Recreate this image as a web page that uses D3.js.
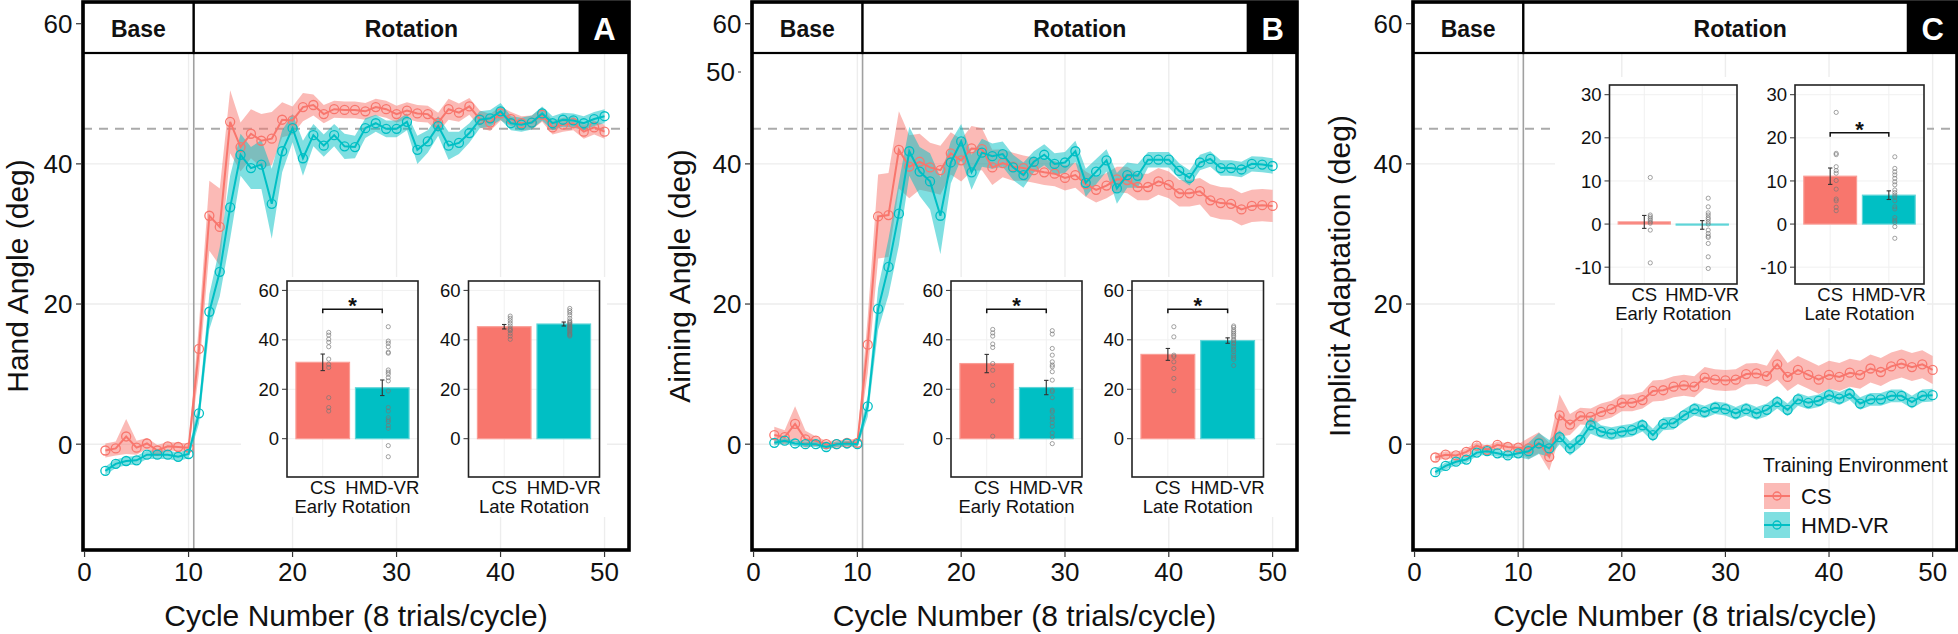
<!DOCTYPE html>
<html><head><meta charset="utf-8">
<script src="https://cdn.jsdelivr.net/npm/d3@7"></script>
<style>
body{margin:0;background:#fff}
svg{display:block}
text{font-family:"Liberation Sans",Arial,Helvetica,sans-serif;fill:#111}
</style>
</head><body>
<svg id="c" width="1958" height="634"></svg>
<script>
// ---------------- DATA ----------------
const cycles = [2,3,4,5,6,7,8,9,10,11,12,13,14,15,16,17,18,19,20,21,22,23,24,25,26,27,28,29,30,31,32,33,34,35,36,37,38,39,40,41,42,43,44,45,46,47,48,49,50];
const groups = ["CS","HMD-VR"];
const xTickVals = [0,10,20,30,40,50];
const yTickVals = [0,20,40,60];
const insetTicksAB = [0,20,40,60];
const insetTicksC = [-10,0,10,20,30];
const extraTickB = ["50"];
const stripLabels = ["Base","Rotation"];
const panelLetters = ["A","B","C"];
const yTitles = ["Hand Angle (deg)","Aiming Angle (deg)","Implicit Adaptation (deg)"];
const xTitle = "Cycle Number (8 trials/cycle)";
const insetTitles = ["Early Rotation","Late Rotation"];
const legendTitle = "Training Environment";
const rotationAngle = 45;
const rotationStart = 10.5;

// Panel A: hand angle
const handCS = [-0.9,-0.6,1.1,-0.5,0.1,-0.9,-0.3,-0.4,-0.5, 13.6,32.6,31.0,46.0,42.4,44.3,43.3,43.6,46.3,46.2, 48.1,48.4,47.1,47.8,47.7,47.7,47.5,48.1,47.8,47.1, 47.6,47.2,47.1,45.9,47.8,47.3,48.2,46.4,45.9,47.2, 46.4,45.8,45.9,47.0,45.2,45.6,45.8,44.6,45.2,44.6];
const handCSse = [1.0,1.0,2.5,1.0,0.8,0.8,0.6,0.6,0.6, 3.5,5.0,5.5,4.5,3.5,3.5,3.8,3.8,2.5,2.0, 2.0,1.5,1.3,1.2,1.2,1.2,1.2,1.2,1.2,1.2, 1.2,1.2,1.2,1.4,1.5,1.3,1.2,1.2,1.2,1.0, 1.0,1.0,1.0,1.0,1.0,1.0,1.0,1.0,1.0,1.0];
const handVR = [-3.8,-2.8,-2.4,-2.3,-1.5,-1.5,-1.5,-1.8,-1.4, 4.4,18.9,24.6,33.8,41.3,39.4,39.9,34.3,41.8,45.1, 40.8,44.1,42.6,44.1,42.5,42.4,45.1,45.8,45.0,45.0, 46.0,42.0,43.2,45.4,42.6,43.0,44.4,46.3,46.5,47.5, 45.8,45.6,45.9,47.2,45.8,46.3,46.2,45.8,46.4,46.8];
const handVRse = [0.6,0.6,0.6,0.6,0.6,0.6,0.6,0.6,0.6, 1.5,2.5,3.5,4.5,3.0,3.0,3.5,5.0,3.0,2.0, 2.5,1.6,1.6,1.6,1.8,1.6,1.4,1.2,1.2,1.2, 1.2,2.0,1.6,1.4,2.0,1.6,1.4,1.2,1.2,1.2, 1.0,1.0,1.0,1.0,1.0,1.0,1.0,1.0,1.0,1.0];

// Panel B: aiming angle
const aimCS = [1.3,1.0,2.9,0.7,0.5,0.0,0.0,0.2,0.2, 14.2,32.5,32.7,42.0,39.6,40.3,39.5,39.1,41.5,40.5, 42.2,42.1,39.5,40.1,39.6,39.4,39.1,38.8,38.6,38.0, 38.4,37.1,36.3,36.9,37.8,37.7,36.7,36.7,37.5,37.0, 35.8,35.8,36.1,34.8,34.4,34.3,33.5,34.0,34.1,34.0];
const aimCSse = [1.2,1.0,2.5,1.2,0.6,0.5,0.5,0.5,0.5, 4.0,6.0,6.0,5.5,4.5,4.0,3.5,3.5,3.0,3.0, 3.2,3.0,2.5,2.0,2.0,1.8,1.8,1.8,1.8,1.8, 1.8,1.8,1.8,1.8,1.8,1.9,1.9,1.9,1.9,1.9, 1.9,1.9,1.9,2.3,2.3,2.3,2.3,2.3,2.3,2.3];
const aimVR = [0.2,0.5,0.1,0.0,0.0,-0.4,0.0,0.1,0.0, 5.4,19.3,25.3,32.9,41.8,38.9,37.5,32.6,40.2,43.2, 38.8,41.6,41.1,41.4,39.5,38.4,40.3,41.3,40.0,40.2, 41.8,37.3,38.9,40.5,36.5,38.4,38.3,40.6,40.6,40.6, 39.0,38.0,40.2,40.7,39.4,39.4,39.2,40.0,39.9,39.7];
const aimVRse = [0.4,0.4,0.4,0.4,0.4,0.4,0.4,0.4,0.4, 1.5,3.0,4.0,4.5,3.5,3.5,4.0,5.5,3.0,2.5, 2.5,2.0,1.8,1.8,1.8,1.8,1.5,1.5,1.5,1.5, 1.5,2.0,1.8,1.6,2.2,1.8,1.7,1.1,1.1,1.1, 1.1,1.1,1.1,1.1,1.1,1.1,1.1,1.1,1.1,1.1];

// Panel C: implicit adaptation
const implCS = [-1.9,-1.5,-1.6,-1.1,-0.2,-0.8,-0.1,-0.4,-0.5, -0.6,0.2,-1.8,4.1,2.8,4.0,3.9,4.6,5.0,5.9, 5.9,6.3,7.6,7.7,8.2,8.4,8.2,9.5,9.2,9.1, 9.2,10.0,10.1,9.7,11.4,9.6,10.6,9.9,9.2,9.9, 9.6,10.2,9.9,10.8,10.3,11.1,11.5,11.0,11.4,10.6];
const implCSse = [0.5,0.5,0.5,0.5,0.5,0.5,0.5,0.5,0.5, 1.5,1.5,2.0,3.0,1.5,1.2,1.2,1.2,1.2,1.2, 1.2,1.2,1.5,1.5,1.5,1.5,1.5,1.5,1.5,1.5, 1.5,1.5,1.5,1.5,2.2,2.0,2.0,2.0,2.0,2.0, 2.0,2.0,2.0,2.0,2.0,2.0,2.0,2.0,2.0,2.0];
const implVR = [-4.0,-3.1,-2.5,-2.2,-1.2,-1.0,-1.3,-1.6,-1.3, -1.0,0.1,-0.6,1.0,-0.6,0.6,2.7,1.8,1.5,1.8, 2.0,2.7,1.3,2.9,3.0,4.1,5.0,4.6,5.2,5.0, 4.4,5.0,4.4,4.9,6.0,4.9,6.4,5.9,6.2,7.0, 6.5,7.2,5.8,6.4,6.4,6.9,6.9,6.0,6.9,7.0];
const implVRse = [0.5,0.5,0.5,0.5,0.5,0.5,0.5,0.5,0.5, 1.2,1.5,1.2,1.0,1.0,1.0,1.2,0.9,0.9,0.9, 0.9,0.9,0.9,0.9,0.9,0.9,0.9,0.9,0.9,0.9, 0.9,0.9,0.9,0.9,0.9,0.9,0.9,0.9,0.9,0.9, 0.9,0.9,0.9,0.9,0.9,0.9,0.9,0.9,0.9,0.9];

// Insets: bar means, SE, individual participants
const handEarlyMeans = [30.9, 20.6];
const handEarlySE = [3.35, 3.15];
const handEarlyDotsCS = [43.0,41.9,40.3,39.0,37.2,32.2,30.1,28.8,16.6,12.6,11.2];
const handEarlyDotsVR = [45.3,39.5,38.6,37.2,35.0,34.6,27.8,26.9,26.1,24.7,23.4,19.3,12.6,11.2,8.5,7.6,6.9,5.3,4.2,-2.8,-7.3];
const handEarlySig = 52.4;
const handLateMeans = [45.3, 46.4];
const handLateSE = [0.9, 0.8];
const handLateDotsCS = [49.6,48.7,47.7,46.7,45.6,44.6,44.0,43.7,42.6,41.5,40.2];
const handLateDotsVR = [52.7,51.8,51.0,50.0,48.7,47.7,47.2,46.9,46.4,46.0,45.6,45.2,44.9,44.6,44.2,43.7,43.2,42.6,42.2,41.9,41.5];
const handLateSig = null;

const aimEarlyMeans = [30.4, 20.7];
const aimEarlySE = [3.7, 2.9];
const aimEarlyDotsCS = [44.2,42.8,41.5,38.3,36.9,30.4,27.7,21.6,15.3,1.0];
const aimEarlyDotsVR = [43.7,42.3,36.5,33.8,31.1,29.8,29.1,27.1,23.7,19.6,19.0,16.6,11.5,10.8,8.8,7.9,6.4,5.0,2.3,0.7,-2.0];
const aimEarlySig = 52.4;
const aimLateMeans = [34.1, 39.7];
const aimLateSE = [2.4, 1.1];
const aimLateDotsCS = [45.3,41.2,33.8,33.2,31.1,28.4,24.4,19.4];
const aimLateDotsVR = [45.6,45.0,44.0,43.3,42.6,41.9,41.2,40.2,39.6,38.8,38.3,37.2,36.1,35.2,33.8,32.9,32.1,29.6];
const aimLateSig = 52.4;

const implEarlyMeans = [0.5, -0.2];
const implEarlySE = [1.5, 1.0];
const implEarlyDotsCS = [10.8,2.1,1.7,1.3,0.9,0.5,0.2,-1.4,-9.0];
const implEarlyDotsVR = [6.0,4.0,2.6,2.1,1.5,1.1,0.5,0.0,-1.4,-2.2,-2.8,-3.1,-4.5,-7.6,-10.3];
const implEarlySig = null;
const implLateMeans = [11.1, 6.7];
const implLateSE = [1.9, 1.0];
const implLateDotsCS = [25.9,16.4,16.1,13.3,12.4,11.8,10.1,8.1,5.8,5.4,3.9,3.1];
const implLateDotsVR = [15.6,12.9,12.1,11.4,10.6,9.8,9.1,7.9,7.3,6.7,6.2,5.4,4.0,3.5,1.5,0.9,0.4,-0.6,-3.3];
const implLateSig = 21.2;

// ---------------- STYLE / LAYOUT ----------------
const COL = {cs:"#F8766D", vr:"#00BFC4"};
const BAR_EDGE = {cs:"#fa9d96", vr:"#5fd5d8"};
const panelTop = 2, panelBottom = 550, stripBottom = 53;
const xDomain = [-0.15, 52.35];
const yMain = d3.scaleLinear([-15.1, 63.1], [panelBottom, panelTop]);

const panels = [
  {key:"A", left:83, right:629, titleX:28,
   cs:handCS, csse:handCSse, vr:handVR, vrse:handVRse,
   bg:[241,277,607,517],
   insets:[
     {box:[287,418,281,477], dom:[-15.5,63.8], ticks:insetTicksAB, means:handEarlyMeans, se:handEarlySE, dcs:handEarlyDotsCS, dvr:handEarlyDotsVR, sig:handEarlySig, title:insetTitles[0]},
     {box:[468.5,599.5,281,477], dom:[-15.5,63.8], ticks:insetTicksAB, means:handLateMeans, se:handLateSE, dcs:handLateDotsCS, dvr:handLateDotsVR, sig:handLateSig, title:insetTitles[1]}]},
  {key:"B", left:752, right:1297, titleX:690,
   cs:aimCS, csse:aimCSse, vr:aimVR, vrse:aimVRse,
   bg:[904,277,1276,517],
   insets:[
     {box:[951,1082,281,477], dom:[-15.5,63.8], ticks:insetTicksAB, means:aimEarlyMeans, se:aimEarlySE, dcs:aimEarlyDotsCS, dvr:aimEarlyDotsVR, sig:aimEarlySig, title:insetTitles[0]},
     {box:[1132,1263.5,281,477], dom:[-15.5,63.8], ticks:insetTicksAB, means:aimLateMeans, se:aimLateSE, dcs:aimLateDotsCS, dvr:aimLateDotsVR, sig:aimLateSig, title:insetTitles[1]}]},
  {key:"C", left:1413, right:1957, titleX:1350,
   cs:implCS, csse:implCSse, vr:implVR, vrse:implVRse,
   bg:[1555,77,1927,328],
   insets:[
     {box:[1609.5,1737,85,284], dom:[-13.9,32.25], ticks:insetTicksC, means:implEarlyMeans, se:implEarlySE, dcs:implEarlyDotsCS, dvr:implEarlyDotsVR, sig:implEarlySig, title:insetTitles[0]},
     {box:[1795,1924,85,284], dom:[-13.9,32.25], ticks:insetTicksC, means:implLateMeans, se:implLateSE, dcs:implLateDotsCS, dvr:implLateDotsVR, sig:implLateSig, title:insetTitles[1]}]}
];

const svg = d3.select("#c");
const defs = svg.append("defs");

function drawInset(g, ins) {
  const [x0,x1,y0,y1] = ins.box;
  const xs = d3.scalePoint(groups, [x0,x1]).padding(0.6);
  const bw = xs.step()*0.9;
  const ys = d3.scaleLinear(ins.dom, [y1,y0]);
  const cols = [COL.cs, COL.vr], edges = [BAR_EDGE.cs, BAR_EDGE.vr];
  const dots = [ins.dcs, ins.dvr];
  // grid
  g.selectAll(null).data(ins.ticks).join("line")
    .attr("x1",x0).attr("x2",x1).attr("y1",d=>ys(d)).attr("y2",d=>ys(d))
    .attr("stroke","#f0f0f0").attr("stroke-width",1);
  g.selectAll(null).data(groups).join("line")
    .attr("x1",d=>xs(d)).attr("x2",d=>xs(d)).attr("y1",y0).attr("y2",y1)
    .attr("stroke","#f0f0f0").attr("stroke-width",1);
  // bars
  g.selectAll(null).data(groups).join("rect")
    .attr("x",d=>xs(d)-bw/2).attr("width",bw)
    .attr("y",(d,i)=>Math.min(ys(ins.means[i]),ys(0)))
    .attr("height",(d,i)=>Math.max(1,Math.abs(ys(ins.means[i])-ys(0))))
    .attr("fill",(d,i)=>cols[i]).attr("stroke",(d,i)=>edges[i]).attr("stroke-width",1.2);
  // dots
  groups.forEach((grp,i)=>{
    g.selectAll(null).data(dots[i]).join("circle")
      .attr("cx",xs(grp)+6).attr("cy",d=>ys(d)).attr("r",2.1)
      .attr("fill","none").attr("stroke","#777").attr("stroke-opacity",0.85).attr("stroke-width",0.8);
  });
  // error bars
  groups.forEach((grp,i)=>{
    const cx = xs(grp), lo = ys(ins.means[i]-ins.se[i]), hi = ys(ins.means[i]+ins.se[i]);
    const eb = g.append("g").attr("stroke","#333").attr("stroke-width",1.1);
    eb.append("line").attr("x1",cx).attr("x2",cx).attr("y1",lo).attr("y2",hi);
    eb.append("line").attr("x1",cx-2.2).attr("x2",cx+2.2).attr("y1",lo).attr("y2",lo);
    eb.append("line").attr("x1",cx-2.2).attr("x2",cx+2.2).attr("y1",hi).attr("y2",hi);
  });
  // significance
  if (ins.sig !== null) {
    const yb = ys(ins.sig);
    g.append("path")
      .attr("d",`M${xs(groups[0])},${yb+4}V${yb}H${xs(groups[1])}V${yb+4}`)
      .attr("fill","none").attr("stroke","#111").attr("stroke-width",1.5);
    g.append("text").attr("x",(xs(groups[0])+xs(groups[1]))/2).attr("y",yb-8)
      .attr("dy","0.55em").attr("text-anchor","middle").attr("font-size",22).attr("font-weight","bold").text("*");
  }
  // frame
  g.append("rect").attr("x",x0).attr("y",y0).attr("width",x1-x0).attr("height",y1-y0)
    .attr("fill","none").attr("stroke","#222").attr("stroke-width",1.6);
  // y axis
  g.selectAll(null).data(ins.ticks).join("line")
    .attr("x1",x0-5).attr("x2",x0).attr("y1",d=>ys(d)).attr("y2",d=>ys(d))
    .attr("stroke","#333").attr("stroke-width",1);
  g.selectAll(null).data(ins.ticks).join("text")
    .attr("x",x0-8).attr("y",d=>ys(d)).attr("dy","0.36em").attr("text-anchor","end")
    .attr("font-size",18.5).text(d=>d);
  // x labels
  g.selectAll(null).data(groups).join("text")
    .attr("x",d=>xs(d)).attr("y",y1+10.5).attr("dy","0.36em").attr("text-anchor","middle")
    .attr("font-size",18.5).text(d=>d);
  g.append("text").attr("x",(x0+x1)/2).attr("y",y1+29).attr("dy","0.36em")
    .attr("text-anchor","middle").attr("font-size",18.5).text(ins.title);
}

panels.forEach((p,pi)=>{
  const x = d3.scaleLinear(xDomain, [p.left, p.right]);
  const g = svg.append("g");
  const cid = "clip"+p.key;
  defs.append("clipPath").attr("id",cid).append("rect")
    .attr("x",p.left).attr("y",panelTop).attr("width",p.right-p.left).attr("height",panelBottom-panelTop);
  const pg = g.append("g").attr("clip-path",`url(#${cid})`);

  // grid
  pg.selectAll(null).data(xTickVals).join("line")
    .attr("x1",d=>x(d)).attr("x2",d=>x(d)).attr("y1",panelTop).attr("y2",panelBottom)
    .attr("stroke","#ededed").attr("stroke-width",1.4);
  pg.selectAll(null).data(yTickVals).join("line")
    .attr("x1",p.left).attr("x2",p.right).attr("y1",d=>yMain(d)).attr("y2",d=>yMain(d))
    .attr("stroke","#ededed").attr("stroke-width",1.4);
  // rotation onset and target angle
  pg.append("line").attr("x1",x(rotationStart)).attr("x2",x(rotationStart))
    .attr("y1",panelTop).attr("y2",panelBottom).attr("stroke","#a0a0a0").attr("stroke-width",1.6);
  pg.append("line").attr("x1",p.left).attr("x2",p.right)
    .attr("y1",yMain(rotationAngle)).attr("y2",yMain(rotationAngle))
    .attr("stroke","#aaaaaa").attr("stroke-width",2).attr("stroke-dasharray","9,7");
  // inset background
  pg.append("rect").attr("x",p.bg[0]).attr("y",p.bg[1]).attr("width",p.bg[2]-p.bg[0]).attr("height",p.bg[3]-p.bg[1]).attr("fill","#fff");

  // series
  const series = [
    {v:p.cs, se:p.csse, c:COL.cs},
    {v:p.vr, se:p.vrse, c:COL.vr}];
  const area = d3.area().x((d,i)=>x(cycles[i]))
    .y0(d=>yMain(d.v - d.se)).y1(d=>yMain(d.v + d.se));
  const line = d3.line().x((d,i)=>x(cycles[i])).y(d=>yMain(d.v));
  series.forEach(s=>{
    const pts = s.v.map((v,i)=>({v:v, se:s.se[i]}));
    pg.append("path").datum(pts).attr("d",area).attr("fill",s.c).attr("fill-opacity",0.5);
  });
  series.forEach(s=>{
    const pts = s.v.map((v,i)=>({v:v, se:s.se[i]}));
    pg.append("path").datum(pts).attr("d",line).attr("fill","none").attr("stroke",s.c).attr("stroke-width",2);
    pg.selectAll(null).data(pts).join("circle")
      .attr("cx",(d,i)=>x(cycles[i])).attr("cy",d=>yMain(d.v)).attr("r",4.5)
      .attr("fill","none").attr("stroke",s.c).attr("stroke-width",1.3);
  });

  // strip
  const sg = g.append("g");
  sg.append("rect").attr("x",p.left).attr("y",panelTop).attr("width",x(rotationStart)-p.left).attr("height",stripBottom-panelTop)
    .attr("fill","#fff").attr("stroke","#000").attr("stroke-width",2.2);
  sg.append("rect").attr("x",x(rotationStart)).attr("y",panelTop).attr("width",p.right-x(rotationStart)).attr("height",stripBottom-panelTop)
    .attr("fill","#fff").attr("stroke","#000").attr("stroke-width",2.2);
  sg.append("rect").attr("x",x(47.5)).attr("y",panelTop).attr("width",p.right-x(47.5)).attr("height",stripBottom-panelTop)
    .attr("fill","#000");
  sg.append("text").attr("x",x((xDomain[0]+rotationStart)/2)).attr("y",28.5).attr("dy","0.36em")
    .attr("text-anchor","middle").attr("font-size",23).attr("font-weight","bold").text(stripLabels[0]);
  sg.append("text").attr("x",x((rotationStart+xDomain[1])/2)).attr("y",28.5).attr("dy","0.36em")
    .attr("text-anchor","middle").attr("font-size",23).attr("font-weight","bold").text(stripLabels[1]);
  sg.append("text").attr("x",x(50)).attr("y",28.5).attr("dy","0.36em")
    .attr("text-anchor","middle").attr("font-size",31).attr("font-weight","bold").style("fill","#fff").text(panelLetters[pi]);

  // panel border
  g.append("rect").attr("x",p.left).attr("y",panelTop).attr("width",p.right-p.left).attr("height",panelBottom-panelTop)
    .attr("fill","none").attr("stroke","#000").attr("stroke-width",3.6);

  // axes
  g.selectAll(null).data(xTickVals).join("line")
    .attr("x1",d=>x(d)).attr("x2",d=>x(d)).attr("y1",panelBottom+1.8).attr("y2",panelBottom+7)
    .attr("stroke","#333").attr("stroke-width",1.2);
  g.selectAll(null).data(xTickVals).join("text")
    .attr("x",d=>x(d)).attr("y",572).attr("dy","0.36em").attr("text-anchor","middle")
    .attr("font-size",26).text(d=>d);
  g.selectAll(null).data(yTickVals).join("line")
    .attr("x1",p.left-7).attr("x2",p.left-1.8).attr("y1",d=>yMain(d)).attr("y2",d=>yMain(d))
    .attr("stroke","#333").attr("stroke-width",1.2);
  g.selectAll(null).data(yTickVals).join("text")
    .attr("x",p.left-10.5).attr("y",d=>yMain(d)).attr("dy","0.36em").attr("text-anchor","end")
    .attr("font-size",26).text(d=>d);
  if (p.key==="B") {
    g.append("text").attr("x",p.left-17).attr("y",72).attr("dy","0.36em").attr("text-anchor","end")
      .attr("font-size",26).text(extraTickB[0]);
    g.append("line").attr("x1",p.left-14).attr("x2",p.left-11).attr("y1",72).attr("y2",72)
      .attr("stroke","#555").attr("stroke-width",1.2);
  }
  g.append("text").attr("x",(p.left+p.right)/2).attr("y",615.5).attr("dy","0.36em")
    .attr("text-anchor","middle").attr("font-size",30).text(xTitle);
  g.append("text").attr("transform",`translate(${p.titleX},276) rotate(-90)`)
    .attr("text-anchor","middle").attr("font-size",30).text(yTitles[pi]);

  // insets
  p.insets.forEach(ins=>drawInset(g.append("g"), ins));

  // legend
  if (p.key==="C") {
    const lg = g.append("g");
    lg.append("text").attr("x",1763).attr("y",465).attr("dy","0.36em").attr("font-size",19.5).text(legendTitle);
    const keys = [{lab:groups[0], c:COL.cs, y:483},{lab:groups[1], c:COL.vr, y:512}];
    keys.forEach(k=>{
      lg.append("rect").attr("x",1764).attr("y",k.y).attr("width",26).attr("height",26)
        .attr("fill",k.c).attr("fill-opacity",0.5);
      lg.append("line").attr("x1",1764).attr("x2",1790).attr("y1",k.y+13).attr("y2",k.y+13)
        .attr("stroke",k.c).attr("stroke-width",2);
      lg.append("circle").attr("cx",1777).attr("cy",k.y+13).attr("r",4)
        .attr("fill","none").attr("stroke",k.c).attr("stroke-width",1.3);
      lg.append("text").attr("x",1801).attr("y",k.y+13).attr("dy","0.36em").attr("font-size",22).text(k.lab);
    });
  }
});
</script>
</body></html>
